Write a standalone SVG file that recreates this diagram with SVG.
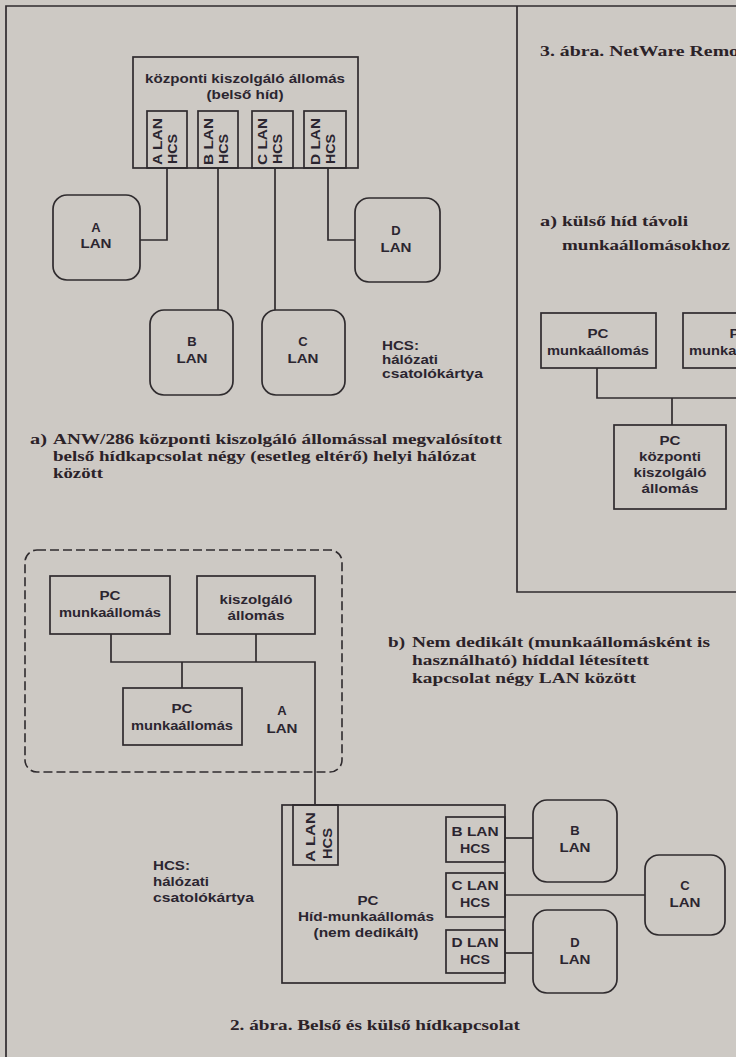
<svg xmlns="http://www.w3.org/2000/svg" width="736" height="1057" viewBox="0 0 736 1057">
<style>
.bg{fill:#cdc9c4}
.ln{fill:none;stroke:#2f2b2e;stroke-width:1.7}
.dash{fill:none;stroke:#2f2b2e;stroke-width:1.6;stroke-dasharray:9 4}
.s{font-family:"Liberation Sans",Arial,sans-serif;font-weight:bold;font-size:13px;fill:#2b2530}
.m{text-anchor:middle}
.t{font-family:"Liberation Serif","Times New Roman",serif;font-weight:bold;font-size:15px;fill:#2b2228}
</style>
<rect class="bg" x="0" y="0" width="736" height="1057"/>

<g id="frames">
<path class="ln" d="M6,1057 V6 H736"/>
<path class="ln" d="M736,592 H517 V6"/>
</g>

<g id="server">
<rect class="ln" x="133" y="57" width="225" height="111"/>
<text class="s m" x="245" y="83" textLength="200" lengthAdjust="spacingAndGlyphs">központi kiszolgáló állomás</text>
<text class="s m" x="245" y="99" textLength="77" lengthAdjust="spacingAndGlyphs">(belső híd)</text>
</g>
<g id="slotA">
<rect class="ln" x="147" y="111" width="40" height="57"/>
<text class="s" transform="translate(162,165) rotate(-90)" textLength="47" lengthAdjust="spacingAndGlyphs">A LAN</text>
<text class="s" transform="translate(177,164) rotate(-90)" textLength="30" lengthAdjust="spacingAndGlyphs">HCS</text>
</g>
<g id="slotB">
<rect class="ln" x="198" y="111" width="40" height="57"/>
<text class="s" transform="translate(213,165) rotate(-90)" textLength="47" lengthAdjust="spacingAndGlyphs">B LAN</text>
<text class="s" transform="translate(228,164) rotate(-90)" textLength="30" lengthAdjust="spacingAndGlyphs">HCS</text>
</g>
<g id="slotC">
<rect class="ln" x="252" y="111" width="41" height="57"/>
<text class="s" transform="translate(267,165) rotate(-90)" textLength="47" lengthAdjust="spacingAndGlyphs">C LAN</text>
<text class="s" transform="translate(282,164) rotate(-90)" textLength="30" lengthAdjust="spacingAndGlyphs">HCS</text>
</g>
<g id="slotD">
<rect class="ln" x="304" y="111" width="42" height="57"/>
<text class="s" transform="translate(320,165) rotate(-90)" textLength="47" lengthAdjust="spacingAndGlyphs">D LAN</text>
<text class="s" transform="translate(335,164) rotate(-90)" textLength="30" lengthAdjust="spacingAndGlyphs">HCS</text>
</g>

<g id="lanA1">
<rect class="ln" x="53" y="195" width="87" height="85" rx="14"/>
<text class="s m" x="96" y="232">A</text>
<text class="s m" x="96" y="248" textLength="31" lengthAdjust="spacingAndGlyphs">LAN</text>
</g>
<g id="lanB1">
<rect class="ln" x="150" y="310" width="83" height="85" rx="14"/>
<text class="s m" x="192" y="346">B</text>
<text class="s m" x="192" y="363" textLength="31" lengthAdjust="spacingAndGlyphs">LAN</text>
</g>
<g id="lanC1">
<rect class="ln" x="262" y="310" width="83" height="85" rx="14"/>
<text class="s m" x="303" y="346">C</text>
<text class="s m" x="303" y="363" textLength="31" lengthAdjust="spacingAndGlyphs">LAN</text>
</g>
<g id="lanD1">
<rect class="ln" x="355" y="198" width="85" height="84" rx="14"/>
<text class="s m" x="396" y="235">D</text>
<text class="s m" x="396" y="252" textLength="31" lengthAdjust="spacingAndGlyphs">LAN</text>
</g>

<g id="legend1">
<text class="s" x="382" y="350" textLength="37" lengthAdjust="spacingAndGlyphs">HCS:</text>
<text class="s" x="382" y="364" textLength="56" lengthAdjust="spacingAndGlyphs">hálózati</text>
<text class="s" x="382" y="378" textLength="101" lengthAdjust="spacingAndGlyphs">csatolókártya</text>
</g>

<g id="captionA">
<text class="t" x="30" y="444" textLength="17" lengthAdjust="spacingAndGlyphs">a)</text>
<text class="t" x="53" y="444" textLength="449" lengthAdjust="spacingAndGlyphs">ANW/286 központi kiszolgáló állomással megvalósított</text>
<text class="t" x="53" y="461" textLength="423" lengthAdjust="spacingAndGlyphs">belső hídkapcsolat négy (esetleg eltérő) helyi hálózat</text>
<text class="t" x="53" y="478" textLength="50" lengthAdjust="spacingAndGlyphs">között</text>
</g>

<g id="panelTitle">
<text class="t" x="540" y="56" textLength="199" lengthAdjust="spacingAndGlyphs">3. ábra. NetWare Remo</text>
<text class="t" x="540" y="226" textLength="17" lengthAdjust="spacingAndGlyphs">a)</text>
<text class="t" x="562" y="226" textLength="126" lengthAdjust="spacingAndGlyphs">külső híd távoli</text>
<text class="t" x="562" y="250" textLength="168" lengthAdjust="spacingAndGlyphs">munkaállomásokhoz</text>
</g>
<g id="rpc1">
<rect class="ln" x="541" y="313" width="115" height="55"/>
<text class="s m" x="598" y="338" textLength="21" lengthAdjust="spacingAndGlyphs">PC</text>
<text class="s m" x="598" y="355" textLength="102" lengthAdjust="spacingAndGlyphs">munkaállomás</text>
</g>
<g id="rpc2">
<rect class="ln" x="683" y="313" width="115" height="55"/>
<text class="s m" x="740" y="338" textLength="21" lengthAdjust="spacingAndGlyphs">PC</text>
<text class="s m" x="740" y="355" textLength="102" lengthAdjust="spacingAndGlyphs">munkaállomás</text>
</g>
<g id="rserver">
<rect class="ln" x="614" y="425" width="112" height="84"/>
<text class="s m" x="670" y="445" textLength="21" lengthAdjust="spacingAndGlyphs">PC</text>
<text class="s m" x="670" y="461" textLength="62" lengthAdjust="spacingAndGlyphs">központi</text>
<text class="s m" x="670" y="477" textLength="73" lengthAdjust="spacingAndGlyphs">kiszolgáló</text>
<text class="s m" x="670" y="493" textLength="57" lengthAdjust="spacingAndGlyphs">állomás</text>
</g>

<g id="lanAgroup">
<rect class="dash" x="25" y="550" width="317" height="222" rx="12"/>
<text class="s m" x="282" y="715">A</text>
<text class="s m" x="282" y="733" textLength="31" lengthAdjust="spacingAndGlyphs">LAN</text>
</g>
<g id="bpc1">
<rect class="ln" x="50" y="576" width="120" height="58"/>
<text class="s m" x="110" y="600" textLength="21" lengthAdjust="spacingAndGlyphs">PC</text>
<text class="s m" x="110" y="617" textLength="102" lengthAdjust="spacingAndGlyphs">munkaállomás</text>
</g>
<g id="bserver">
<rect class="ln" x="197" y="576" width="118" height="58"/>
<text class="s m" x="256" y="604" textLength="73" lengthAdjust="spacingAndGlyphs">kiszolgáló</text>
<text class="s m" x="256" y="620" textLength="57" lengthAdjust="spacingAndGlyphs">állomás</text>
</g>
<g id="bpc2">
<rect class="ln" x="123" y="688" width="119" height="57"/>
<text class="s m" x="182" y="713" textLength="21" lengthAdjust="spacingAndGlyphs">PC</text>
<text class="s m" x="182" y="730" textLength="102" lengthAdjust="spacingAndGlyphs">munkaállomás</text>
</g>

<g id="captionB">
<text class="t" x="388" y="647" textLength="17" lengthAdjust="spacingAndGlyphs">b)</text>
<text class="t" x="412" y="647" textLength="298" lengthAdjust="spacingAndGlyphs">Nem dedikált (munkaállomásként is</text>
<text class="t" x="412" y="665" textLength="237" lengthAdjust="spacingAndGlyphs">használható) híddal létesített</text>
<text class="t" x="412" y="683" textLength="224" lengthAdjust="spacingAndGlyphs">kapcsolat négy LAN között</text>
</g>

<g id="bridge">
<rect class="ln" x="282" y="805" width="223" height="178"/>
<text class="s m" x="368" y="905" textLength="21" lengthAdjust="spacingAndGlyphs">PC</text>
<text class="s m" x="366" y="921" textLength="136" lengthAdjust="spacingAndGlyphs">Híd-munkaállomás</text>
<text class="s m" x="366" y="937" textLength="105" lengthAdjust="spacingAndGlyphs">(nem dedikált)</text>
</g>
<g id="bslotA">
<rect class="ln" x="293" y="805" width="45" height="60"/>
<text class="s" transform="translate(315,862) rotate(-90)" textLength="50" lengthAdjust="spacingAndGlyphs">A LAN</text>
<text class="s" transform="translate(332,859) rotate(-90)" textLength="31" lengthAdjust="spacingAndGlyphs">HCS</text>
</g>
<g id="bslotB">
<rect class="ln" x="446" y="817" width="59" height="45"/>
<text class="s m" x="475" y="836" textLength="47" lengthAdjust="spacingAndGlyphs">B LAN</text>
<text class="s m" x="475" y="853" textLength="30" lengthAdjust="spacingAndGlyphs">HCS</text>
</g>
<g id="bslotC">
<rect class="ln" x="446" y="873" width="59" height="44"/>
<text class="s m" x="475" y="890" textLength="47" lengthAdjust="spacingAndGlyphs">C LAN</text>
<text class="s m" x="475" y="907" textLength="30" lengthAdjust="spacingAndGlyphs">HCS</text>
</g>
<g id="bslotD">
<rect class="ln" x="446" y="930" width="59" height="43"/>
<text class="s m" x="475" y="947" textLength="47" lengthAdjust="spacingAndGlyphs">D LAN</text>
<text class="s m" x="475" y="964" textLength="30" lengthAdjust="spacingAndGlyphs">HCS</text>
</g>

<g id="lanB2">
<rect class="ln" x="533" y="800" width="84" height="82" rx="14"/>
<text class="s m" x="575" y="835">B</text>
<text class="s m" x="575" y="852" textLength="31" lengthAdjust="spacingAndGlyphs">LAN</text>
</g>
<g id="lanC2">
<rect class="ln" x="645" y="855" width="80" height="80" rx="14"/>
<text class="s m" x="685" y="890">C</text>
<text class="s m" x="685" y="907" textLength="31" lengthAdjust="spacingAndGlyphs">LAN</text>
</g>
<g id="lanD2">
<rect class="ln" x="533" y="910" width="84" height="83" rx="14"/>
<text class="s m" x="575" y="947">D</text>
<text class="s m" x="575" y="964" textLength="31" lengthAdjust="spacingAndGlyphs">LAN</text>
</g>

<g id="legend2">
<text class="s" x="153" y="870" textLength="37" lengthAdjust="spacingAndGlyphs">HCS:</text>
<text class="s" x="153" y="886" textLength="56" lengthAdjust="spacingAndGlyphs">hálózati</text>
<text class="s" x="153" y="902" textLength="101" lengthAdjust="spacingAndGlyphs">csatolókártya</text>
</g>

<g id="caption2">
<text class="t" x="375" y="1030" text-anchor="middle" textLength="290" lengthAdjust="spacingAndGlyphs">2. ábra. Belső és külső hídkapcsolat</text>
</g>

<g id="connectors">
<path class="ln" d="M167,168 V240 H140"/>
<path class="ln" d="M218,168 V310"/>
<path class="ln" d="M275,168 V310"/>
<path class="ln" d="M328,168 V240 H355"/>
<path class="ln" d="M597,368 V398 H736"/>
<path class="ln" d="M672,398 V425"/>
<path class="ln" d="M111,634 V662 H315 V805"/>
<path class="ln" d="M256,634 V662"/>
<path class="ln" d="M182,662 V688"/>
<path class="ln" d="M505,838 H533"/>
<path class="ln" d="M505,895 H645"/>
<path class="ln" d="M505,953 H533"/>
</g>
</svg>
